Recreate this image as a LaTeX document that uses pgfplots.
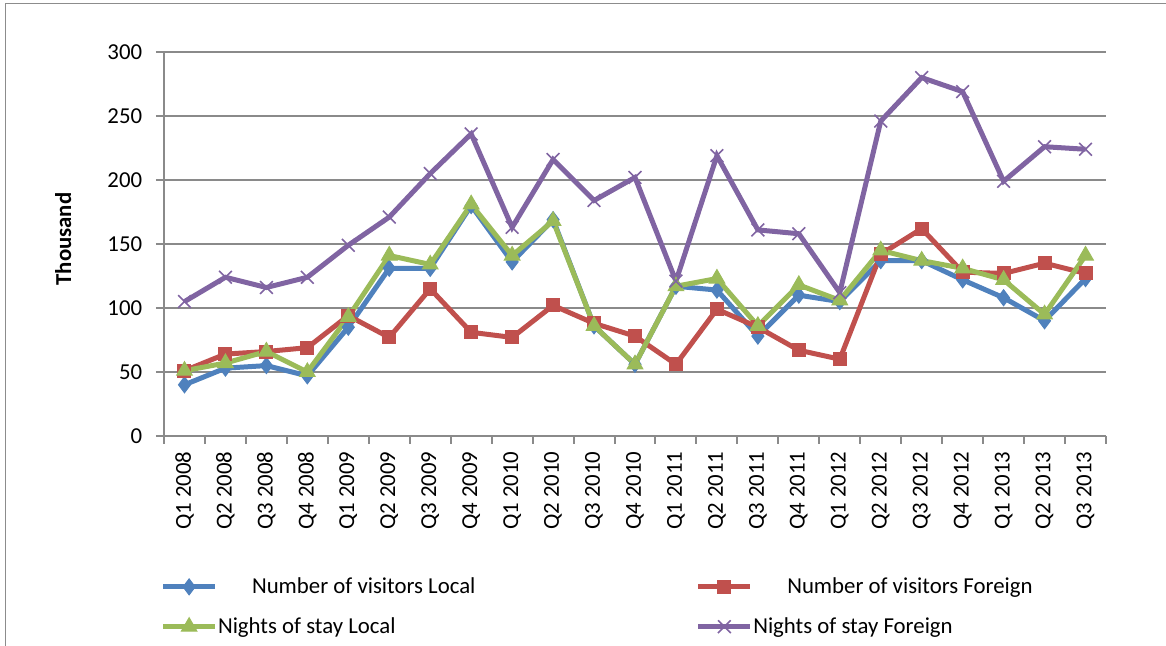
\documentclass[border=0pt]{standalone}
\usepackage{pgfplots}
\pgfplotsset{compat=1.18}
\usepackage{fontspec}
\setmainfont{Carlito}
\definecolor{cblue}{HTML}{4F81BD}
\definecolor{cred}{HTML}{C0504D}
\definecolor{cgreen}{HTML}{9BBB59}
\definecolor{cpurple}{HTML}{8064A2}
\definecolor{gridgray}{HTML}{8A8A8A}
\definecolor{framegray}{HTML}{8C8C8C}
\newcommand{\fs}{\fontsize{11.4}{13.5}\selectfont}
\begin{document}
\begin{tikzpicture}[x=0.5pt,y=0.5pt]
\path[use as bounding box] (0,0) rectangle (1166,646);
\draw[color=framegray, line width=0.7pt] (5.5,0) -- (5.5,642.5) -- (1166,642.5);
\begin{axis}[
  at={(82pt,105pt)}, anchor=south west,
  scale only axis, width=471pt, height=192pt,
  xmin=-0.5, xmax=22.5, ymin=0, ymax=300,
  axis x line*=bottom, axis y line*=left,
  axis line style={color=gridgray, line width=1pt},
  ytick={0,50,...,300},
  minor ytick={0,50,...,300},
  xtick={0,...,22},
  minor xtick={-0.5,0.5,...,22.5},
  xticklabels={Q1 2008,Q2 2008,Q3 2008,Q4 2008,Q1 2009,Q2 2009,Q3 2009,Q4 2009,Q1 2010,Q2 2010,Q3 2010,Q4 2010,Q1 2011,Q2 2011,Q3 2011,Q4 2011,Q1 2012,Q2 2012,Q3 2012,Q4 2012,Q1 2013,Q2 2013,Q3 2013},
  major tick length=0pt, minor tick length=4pt,
  tick align=outside,
  tick style={color=gridgray, line width=1pt},
  ymajorgrids, grid style={color=gridgray, line width=1pt},
  /pgf/number format/assume math mode=true,
  ticklabel style={font=\fs, text=black},
  xticklabel style={rotate=90, anchor=east},
  xticklabel shift=4.2pt,
  yticklabel shift=7.4pt,
  ylabel={Thousand},
  ylabel style={font=\fs\bfseries, at={(axis description cs:-0.107,0.513)}, anchor=center},
  legend columns=2,
  legend cell align=left,
  legend style={draw=none, fill=none, inner sep=0pt, font=\fs,
    nodes={inner xsep=0.2pt},
    at={(axis description cs:-0.004,-0.357)}, anchor=north west,
    /tikz/every even column/.append style={column sep=110pt},
    row sep=6.5pt},
  legend image code/.code={\draw[#1, mark repeat=2, mark phase=2] plot coordinates {(0pt,0pt) (13pt,0pt) (26pt,0pt)};},
  every axis plot/.append style={line width=2.5pt},
]
\addplot[color=cblue, mark=diamond*, mark size=4pt, mark options={solid, line width=0.5pt, fill=cblue}] coordinates {
(0,40) (1,53) (2,55) (3,47) (4,85) (5,131) (6,131) (7,180) (8,136) (9,169) (10,86) (11,56) (12,117) (13,114) (14,78) (15,110) (16,105) (17,137) (18,137) (19,122) (20,108) (21,90) (22,123)};
\addlegendentry{\hspace{17pt}Number of visitors Local}
\addplot[color=cred, mark=square*, mark size=3.25pt, mark options={solid, line width=0.5pt, fill=cred}] coordinates {
(0,51) (1,64) (2,66) (3,69) (4,94) (5,77) (6,115) (7,81) (8,77) (9,102) (10,88) (11,78) (12,56) (13,99) (14,85) (15,67) (16,60) (17,142) (18,162) (19,128) (20,127) (21,135) (22,127)};
\addlegendentry{\hspace{17pt}Number of visitors Foreign}
\addplot[color=cgreen, mark=triangle*, mark size=4.5pt, mark options={solid, line width=0.5pt, fill=cgreen}] coordinates {
(0,51) (1,57) (2,66) (3,50) (4,93) (5,141) (6,134) (7,181) (8,141) (9,168) (10,86) (11,56) (12,117) (13,123) (14,86) (15,118) (16,106) (17,145) (18,137) (19,131) (20,122) (21,95) (22,141)};
\addlegendentry{Nights of stay Local}
\addplot[color=cpurple, mark=x, mark size=4.5pt, mark options={solid, line width=0.8pt}] coordinates {
(0,105) (1,124) (2,116) (3,124) (4,149) (5,171) (6,205) (7,236) (8,163) (9,216) (10,184) (11,202) (12,121) (13,219) (14,161) (15,158) (16,112) (17,246) (18,280) (19,269) (20,199) (21,226) (22,224)};
\addlegendentry{Nights of stay Foreign}
\end{axis}
\end{tikzpicture}
\end{document}
